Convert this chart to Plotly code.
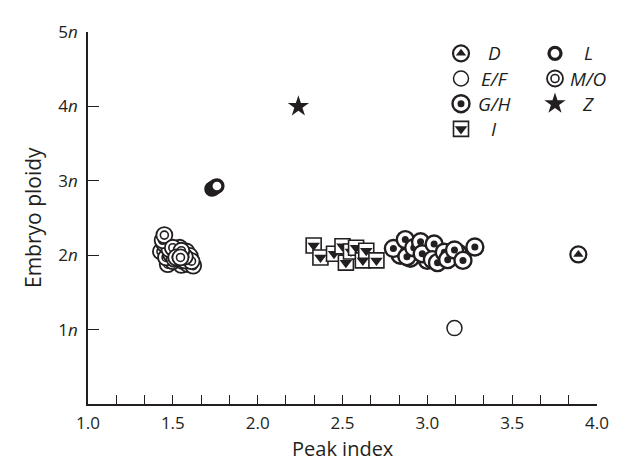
import plotly.graph_objects as go

# ---------------- data ----------------
mo_x = [1.47, 1.55, 1.59, 1.62, 1.50, 1.57, 1.43, 1.46, 1.58, 1.52, 1.49, 1.60, 1.54, 1.45, 1.56,
        1.51, 1.48, 1.61, 1.53, 1.57, 1.44, 1.45, 1.50, 1.55, 1.52, 1.545]
mo_y = [1.88, 1.87, 1.88, 1.86, 1.92, 1.93, 2.05, 1.97, 2.05, 2.08, 2.01, 1.99, 2.10, 2.15, 2.01,
        1.95, 2.08, 1.92, 2.04, 1.98, 2.20, 2.27, 2.10, 2.06, 1.97, 1.97]
l_x = [1.73, 1.74, 1.75, 1.76]
l_y = [2.89, 2.90, 2.92, 2.93]
i_x = [2.33, 2.37, 2.45, 2.50, 2.52, 2.55, 2.58, 2.62, 2.64, 2.70]
i_y = [2.13, 1.97, 2.02, 2.12, 1.90, 2.05, 2.10, 1.93, 2.06, 1.93]
gh_x = [2.84, 2.90, 3.00, 3.08, 3.14, 3.18, 2.80, 2.87, 2.88, 2.92, 2.96, 2.97, 3.04, 3.03,
        3.06, 3.10, 3.12, 3.16, 3.21, 3.28]
gh_y = [2.00, 1.96, 1.93, 2.00, 1.98, 2.03, 2.09, 2.21, 1.98, 2.10, 2.18, 2.02, 2.15, 1.94,
        1.90, 2.04, 1.94, 2.07, 1.93, 2.11]
ef_x = [3.16]
ef_y = [1.02]
d_x = [3.89]
d_y = [2.01]
z_x = [2.24]
z_y = [4.00]

x_tick_vals = [1.0, 1.5, 2.0, 2.5, 3.0, 3.5, 4.0]
x_tick_text = ["1.0", "1.5", "2.0", "2.5", "3.0", "3.5", "4.0"]
y_tick_vals = [1, 2, 3, 4, 5]
y_tick_text = ["1<i>n</i>", "2<i>n</i>", "3<i>n</i>", "4<i>n</i>", "5<i>n</i>"]

x_title = "Peak index"
y_title = "Embryo ploidy"
legend_labels = ["D", "E/F", "G/H", "I", "L", "M/O", "Z"]

# ---------------- styles ----------------
INK = "#231f20"
W, H = 622, 464
OFF = 8                     # page body margin: figure is drawn 8px right/down in the window
ML, MR, MT, MB = 80, 33, 12, 68
FONT = "Open Sans"

STYLES = {
    "D": [dict(symbol="circle", size=16, color="white", lw=2.2),
          dict(symbol="triangle-up", size=9, color=INK, lw=0)],
    "E/F": [dict(symbol="circle", size=15, color="white", lw=1.5)],
    "G/H": [dict(symbol="circle", size=17, color="white", lw=2.4),
            dict(symbol="circle", size=7, color=INK, lw=0)],
    "I": [dict(symbol="square", size=15, color="white", lw=1.6),
          dict(symbol="triangle-down", size=11, color=INK, lw=0)],
    "L": [dict(symbol="circle", size=12, color="white", lw=3.3)],
    "M/O": [dict(symbol="circle", size=16, color="white", lw=1.8),
            dict(symbol="circle", size=8, color="white", lw=1.6)],
    "Z": [dict(symbol="star", size=16, color=INK, lw=0)],
}


def composite(xs, ys, key, xaxis="x", yaxis="y"):
    layers = STYLES[key]
    X, Y, sym, size, col, lw = [], [], [], [], [], []
    for x, y in zip(xs, ys):
        for ly in layers:
            X.append(x); Y.append(y)
            sym.append(ly["symbol"]); size.append(ly["size"])
            col.append(ly["color"]); lw.append(ly["lw"])
    return go.Scatter(
        x=X, y=Y, mode="markers", xaxis=xaxis, yaxis=yaxis, showlegend=False,
        cliponaxis=False, hoverinfo="skip",
        marker=dict(symbol=sym, size=size, color=col, opacity=1,
                    line=dict(color=INK, width=lw)),
    )


fig = go.Figure()
series = [("M/O", mo_x, mo_y), ("L", l_x, l_y), ("I", i_x, i_y), ("G/H", gh_x, gh_y),
          ("E/F", ef_x, ef_y), ("D", d_x, d_y), ("Z", z_x, z_y)]
for key, xs, ys in series:
    fig.add_trace(composite(xs, ys, key))

# ---------------- legend (manual, in figure pixel coordinates) ----------------
leg_cols = [(461 - OFF, 494 - OFF), (555 - OFF, 588 - OFF)]   # (marker x, text centre x)
leg_row0, leg_dy = 42 - OFF, 26
legend_layout = [("D", 0, 0), ("E/F", 0, 1), ("G/H", 0, 2), ("I", 0, 3),
                 ("L", 1, 0), ("M/O", 1, 1), ("Z", 1, 2)]
annotations = []
for key, c, r in legend_layout:
    mx, tx = leg_cols[c]
    yy = leg_row0 + r * leg_dy
    fig.add_trace(composite([mx], [yy], key, xaxis="x2", yaxis="y2"))
    annotations.append(dict(x=tx, y=yy, xref="x2", yref="y2", text=f"<i>{key}</i>",
                            showarrow=False, xanchor="center", yanchor="middle",
                            font=dict(family=FONT, size=19, color=INK)))

# axis titles as annotations for exact placement
annotations.append(dict(x=0.5, y=0, xref="paper", yref="paper", text=x_title,
                        showarrow=False, xanchor="center", yanchor="middle", yshift=-44,
                        font=dict(family=FONT, size=20, color=INK)))
annotations.append(dict(x=0, y=0.5, xref="paper", yref="paper", text=y_title, textangle=-90,
                        showarrow=False, xanchor="center", yanchor="middle", xshift=-55,
                        font=dict(family=FONT, size=21, color=INK)))

fig.update_layout(
    width=W, height=H,
    margin=dict(l=ML, r=MR, t=MT, b=MB),
    paper_bgcolor="white", plot_bgcolor="white",
    font=dict(family=FONT, color=INK),
    showlegend=False,
    annotations=annotations,
    xaxis=dict(
        range=[1, 4], showgrid=False, zeroline=False,
        showline=True, linecolor=INK, linewidth=1.6,
        tickmode="array", tickvals=x_tick_vals, ticktext=x_tick_text,
        ticks="inside", ticklen=9, tickwidth=1.3, tickcolor=INK,
        minor=dict(tickmode="linear", tick0=1, dtick=1 / 6, ticks="inside",
                   ticklen=9, tickwidth=1.3, tickcolor=INK, showgrid=False),
        tickfont=dict(family=FONT, size=17, color=INK),
        ticklabelstandoff=3, ticklabeloverflow="allow",
    ),
    yaxis=dict(
        range=[0, 5], showgrid=False, zeroline=False,
        showline=True, linecolor=INK, linewidth=1.6,
        tickmode="array", tickvals=y_tick_vals, ticktext=y_tick_text,
        ticks="inside", ticklen=11, tickwidth=1.3, tickcolor=INK,
        tickfont=dict(family=FONT, size=17, color=INK),
        ticklabelstandoff=5, ticklabeloverflow="allow",
    ),
    xaxis2=dict(overlaying="x", range=[ML, W - MR], visible=False, anchor="y2"),
    yaxis2=dict(overlaying="y", range=[H - MB, MT], visible=False, anchor="x2"),
)

fig.write_html("out.html")
